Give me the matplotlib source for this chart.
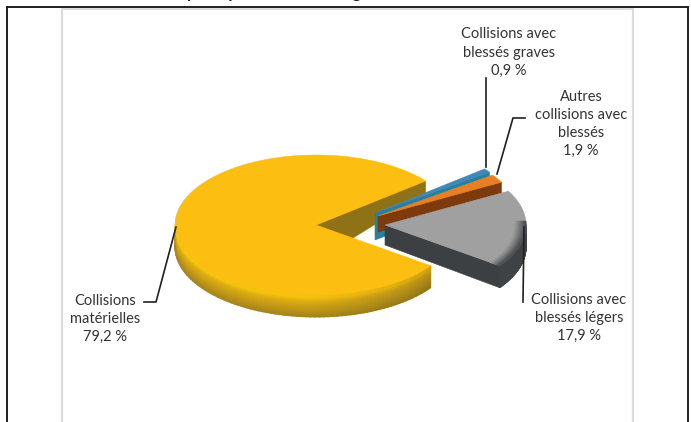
import numpy as np
import matplotlib
matplotlib.use("Agg")
import matplotlib.pyplot as plt
from matplotlib.colors import LinearSegmentedColormap
from matplotlib.patches import Polygon

# share of each collision type, counter-clockwise from the start angle
labels = [
    "Collisions\nmatérielles\n79,2 %",
    "Collisions avec\nblessés légers\n17,9 %",
    "Autres\ncollisions avec\nblessés\n1,9 %",
    "Collisions avec\nblessés graves\n0,9 %",
]
values = [79.2, 17.9, 1.9, 0.9]
top_colors = ["#fcbe10", "#a0a0a0", "#e97f25", "#3f88bd"]
side_colors = ["#8f7216", "#3c4043", "#7d3a0c", "#2c7f96"]

START_ANGLE = 39.0
RX, RY = 141, 70
CENTER = (316, 225)
# how far each slice is pulled out of the pie, in pixels
offsets = [(0, 0), (69, 0), (62, 9), (59, 12)]
# cut face depth at the rim and at the pie axis
depths = [(12, 36), (22, 20), (14, 16), (24, 27)]
WALL = 22

gold = LinearSegmentedColormap.from_list("gold", ["#6f5814", "#a8861a", "#dcab12", "#fbcd0b"])
slate = LinearSegmentedColormap.from_list("slate", ["#3e4245", "#a0a0a0"])


def rim(angles, cx, cy, scale=1.0):
    rad = np.radians(angles)
    return np.column_stack([cx + scale * RX * np.cos(rad), cy - scale * RY * np.sin(rad)])


def draw_slice(ax, start, sweep, top, side, dx, dy, depth):
    cx, cy = CENTER[0] + dx, CENTER[1] - dy
    edge = rim(np.linspace(start, start + sweep, 120), cx, cy)
    p = rim([start], cx, cy)[0]
    face = [(cx, cy), p, (p[0], p[1] + depth[0]), (cx, cy + depth[1])]
    ax.add_patch(Polygon(face, closed=True, fc=side, ec=side, lw=0.4))
    return cx, cy, np.vstack([[cx, cy], edge]), top


def draw_wall(ax, start, stop, cx, cy, cmap, shade):
    # outer wall of the slice, shaded from the rim down
    angles = np.linspace(start, stop, 80)
    v = np.linspace(0, 1, 12)
    edge = rim(angles, cx, cy)
    X = np.tile(edge[:, 0], (len(v), 1))
    Y = edge[:, 1] + np.outer(v, np.full(len(angles), WALL))
    C = shade(v[:, None], np.linspace(0, 1, len(angles))[None, :])
    ax.pcolormesh(X, Y, C, cmap=cmap, vmin=0, vmax=1, shading="gouraud")


def gold_shade(v, along):
    height = np.interp(v, [0, 0.12, 0.3, 1], [0.92, 1.0, 0.72, 0.34])
    return height * np.interp(along, [0, 0.6, 1], [1.0, 0.95, 0.62])


fig = plt.figure(figsize=(6.91, 4.22), dpi=100)
ax = fig.add_axes([0, 0, 1, 1])
ax.set_xlim(0, 691)
ax.set_ylim(422, 0)
ax.axis("off")

# page frame and the chart's grey border
ax.plot([62, 62, 633, 633], [422, 9, 9, 422], color="#dcdcdc", lw=1.6)
ax.plot([7.5, 7.5], [422, 7], color="#231f20", lw=1.4)
ax.plot([7.5, 688], [7, 7], color="#231f20", lw=1.4)
ax.plot([688, 688], [7, 422], color="#231f20", lw=1.4)

# what is left of the page title above the frame, only descenders show
title_font = dict(family="Lato", fontsize=12, fontweight="bold", color="#231f20", va="baseline")
ax.text(187, -2, "principales", **title_font)
ax.text(322, -2, "catégories", **title_font)

sweeps = [v / sum(values) * 360 for v in values]
starts = START_ANGLE + np.concatenate([[0], np.cumsum(sweeps)[:-1]])

# yellow first, then the pulled out slices from back to front
for i in [0, 3, 2, 1]:
    cx, cy, outline, top = draw_slice(ax, starts[i], sweeps[i], top_colors[i], side_colors[i],
                                      offsets[i][0], offsets[i][1], depths[i])
    if i == 0:
        draw_wall(ax, 180, starts[0] + sweeps[0], cx, cy, gold, gold_shade)
    if i == 1:
        draw_wall(ax, starts[1], 360, cx, cy, slate, lambda v, along: 0 * v * along)
    ax.add_patch(Polygon(outline, closed=True, fc=top, ec=top, lw=0.4))
    if i == 1:
        # dark falloff of the grey top towards its lower rim
        angles = np.linspace(starts[1], starts[1] + sweeps[1] * 0.6, 40)
        scales = np.linspace(0.92, 1, 6)
        band = np.array([rim(angles, cx, cy, s) for s in scales])
        C = np.outer(np.linspace(1, 0.1, 6), np.ones(40))
        ax.pcolormesh(band[:, :, 0], band[:, :, 1], C, cmap=slate, vmin=0, vmax=1, shading="gouraud")

font = dict(family="Lato", fontsize=10.5, color="#333333", ha="center", va="center", linespacing=1.38)
ax.text(105, 319, labels[0], **font)
ax.text(579, 318, labels[1], **font)
ax.text(581, 124, labels[2], **font)
ax.text(509, 52.5, labels[3], **font)

leader = dict(color="#231f20", lw=1.2)
ax.plot([486, 486], [78, 167], **leader)
ax.plot([524, 523], [227, 302], **leader)
ax.plot([497, 513, 525], [174, 118, 118], **leader)
ax.plot([176, 156, 144], [227, 302, 302], **leader)

fig.savefig("out.png", dpi=100)
